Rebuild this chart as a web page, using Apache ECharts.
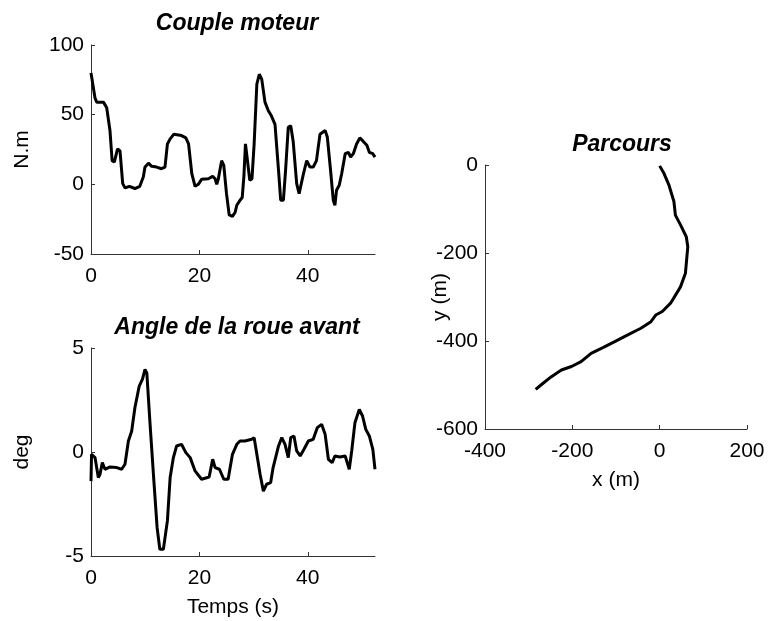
<!DOCTYPE html>
<html><head><meta charset="utf-8">
<script src="https://cdn.jsdelivr.net/npm/echarts@6/dist/echarts.min.js"></script>
<style>html,body{margin:0;padding:0;background:#fff}#c{width:768px;height:621px}</style>
</head><body><div id="c"></div>
<script>
const torqueT = [0,0.1,0.74,1.05,2.3,2.9,3.5,3.9,4.3,4.9,5.35,5.85,6.3,7.07,8.1,9.0,9.65,9.96,10.6,11.2,12.1,13.0,13.65,14.1,14.6,15.3,16.7,17.5,18.0,18.6,19.2,19.8,20.4,21.65,22.45,22.9,23.2,23.5,24.1,24.5,25.0,25.5,26.1,26.6,26.9,27.5,27.9,28.2,28.5,28.85,29.3,29.7,30.1,30.6,31.05,31.5,32.1,32.7,33.3,33.95,34.6,35.0,35.5,35.9,36.4,36.85,37.3,37.95,38.4,38.7,39.2,39.8,40.4,41.0,41.6,42.25,43.2,43.6,44.2,44.7,45.0,45.3,45.8,46.25,46.9,47.5,47.9,48.4,49.0,49.6,50.2,50.9,51.35,52.0,52.4];
const torqueV = [80,79,62,59,59,55,38.6,17,16,25.5,24,0.5,-2.6,-1.4,-3,-1.4,5.2,12.4,15.2,12.9,12.4,11.2,12.4,29,32.6,36,35,33.3,29,7.6,-1.4,0,3.6,4,5.7,4,0,4,17,13.6,-6.7,-22,-23,-20,-15,-11.4,-9.5,5.2,29,29,2.9,4,29,72,79,75.5,59,53,49,43,10,-11.4,-11.4,10,41,42,31,0.5,-6.7,-6.7,7.6,17,12.4,12.4,17,36,38.6,34,10,-11.4,-15,-4.3,-0.7,7.6,22,23,19.5,22,29,33.3,31,28,23,22,19.5];

const angleT = [0,0.1,0.74,1.35,1.66,2.09,2.58,3.5,4.74,5.66,6.27,6.9,7.5,8.1,8.9,9.5,9.96,10.3,10.9,11.6,12.2,12.7,13.35,14.1,14.6,15.2,15.8,16.7,17.5,18.3,19.2,20.4,21.8,22.45,22.9,23.7,24.5,25.3,26.1,26.9,27.5,28.4,29.65,30.1,30.6,31.2,31.8,32.4,33.15,33.6,34.6,35.2,35.8,36.4,36.85,37.45,37.95,38.6,39.3,40.1,41.0,41.75,42.55,43.2,43.8,44.5,45.0,45.9,46.9,47.65,48.1,48.7,49.5,50.1,50.7,51.35,52.0,52.4];
const angleV = [-1.4,-0.11,-0.27,-1.23,-1.07,-0.51,-0.83,-0.72,-0.75,-0.83,-0.59,0.53,1.0,2.13,3.17,3.5,3.97,3.8,1.33,-1.39,-3.64,-4.68,-4.68,-3.3,-1.23,-0.27,0.29,0.37,-0.03,-0.27,-0.91,-1.31,-1.2,-0.35,-0.75,-0.83,-1.31,-1.31,-0.11,0.37,0.53,0.53,0.61,0.69,-0.11,-1.07,-1.88,-1.55,-1.47,-0.75,0.29,0.69,0.37,-0.27,0.69,0.77,0.05,-0.19,0.13,0.53,0.61,1.17,1.33,0.85,-0.35,-0.51,-0.19,-0.24,-0.19,-0.83,0.05,1.41,2.05,1.73,1.09,0.77,0.13,-0.83];

const pathX = [0,9.8,21,32.6,36,47.7,61,64.4,59,47.7,25,6,-9,-20,-43,-73,-104,-130,-157,-180,-202,-225,-248,-267,-284];
const pathY = [-2,-19,-45,-83,-114,-136,-163,-186,-246,-277,-314,-333,-341,-356,-371,-386,-402,-415,-428,-447,-458,-466,-481,-496,-510];

const timeTicks = [0, 20, 40];
const titles = ['Couple moteur', 'Angle de la roue avant', 'Parcours'];

const pairs = (a, b) => a.map((v, i) => [v, b[i]]);
const FONT = 'Liberation Sans';
const axisCommon = {
  axisLine: { show: true, onZero: false, lineStyle: { color: '#333', width: 1 } },
  axisTick: { show: true, inside: true, length: 4, lineStyle: { color: '#333' } },
  splitLine: { show: false },
  axisLabel: { color: '#000', fontFamily: FONT, fontSize: 21 },
  nameTextStyle: { color: '#000', fontFamily: FONT, fontSize: 21 },
  nameMoveOverlap: false
};
function xa(idx, min, max, interval, name, gap) {
  return Object.assign({}, axisCommon, {
    type: 'value', gridIndex: idx, min, max, interval,
    name: name, nameLocation: 'middle', nameGap: gap,
    axisLabel: Object.assign({}, axisCommon.axisLabel, { margin: 12, showMaxLabel: max % interval === 0 })
  });
}
function ya(idx, min, max, interval, name, gap) {
  return Object.assign({}, axisCommon, {
    type: 'value', gridIndex: idx, min, max, interval,
    name: name, nameLocation: 'middle', nameGap: gap, nameRotate: 90,
    axisLabel: Object.assign({}, axisCommon.axisLabel, { margin: 7 })
  });
}
const titleStyle = { color: '#000', fontFamily: FONT, fontSize: 23, fontWeight: 'bold', fontStyle: 'italic' };
const chart = echarts.init(document.getElementById('c'), null, { renderer: 'canvas' });
chart.setOption({
  animation: false,
  backgroundColor: '#fff',
  title: [
    { text: titles[0], left: 232, top: 7, textAlign: 'center', textStyle: titleStyle },
    { text: titles[1], left: 232, top: 311, textAlign: 'center', textStyle: titleStyle },
    { text: titles[2], left: 617, top: 128, textAlign: 'center', textStyle: titleStyle }
  ],
  grid: [
    { left: 91, top: 45, width: 284, height: 209 },
    { left: 91, top: 348, width: 284, height: 208 },
    { left: 485, top: 165, width: 262, height: 264 }
  ],
  xAxis: [
    xa(0, 0, 52.4, 20, '', 30),
    xa(1, 0, 52.4, 20, 'Temps (s)', 41),
    xa(2, -400, 200, 200, 'x (m)', 41)
  ],
  yAxis: [
    ya(0, -50, 100, 50, 'N.m', 58),
    ya(1, -5, 5, 5, 'deg', 58),
    ya(2, -600, 0, 200, 'y (m)', 34)
  ],
  series: [
    { type: 'line', xAxisIndex: 0, yAxisIndex: 0, data: pairs(torqueT, torqueV), showSymbol: false, lineStyle: { color: '#000', width: 3 } },
    { type: 'line', xAxisIndex: 1, yAxisIndex: 1, data: pairs(angleT, angleV), showSymbol: false, lineStyle: { color: '#000', width: 3 } },
    { type: 'line', xAxisIndex: 2, yAxisIndex: 2, data: pairs(pathX, pathY), showSymbol: false, lineStyle: { color: '#000', width: 3 } }
  ]
});
</script></body></html>
